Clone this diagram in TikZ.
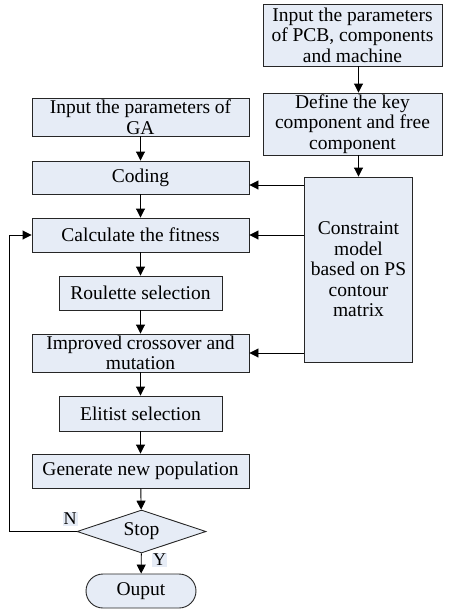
\documentclass[tikz,border=0pt]{standalone}
\usepackage{fontspec}
\setmainfont{Liberation Serif}
\usetikzlibrary{arrows.meta,shapes.geometric}
\definecolor{boxfill}{HTML}{E6ECF6}
\tikzset{
  box/.style={draw=black!85, fill=boxfill, line width=0.9pt, align=center,
    inner sep=0pt, font=\fontsize{19.5}{20.5}\selectfont},
  decide/.style={diamond, draw=black!85, fill=boxfill, line width=0.9pt,
    inner sep=0pt, font=\fontsize{19.5}{20.5}\selectfont},
  arr/.style={line width=0.9pt, -{Triangle[length=9pt,width=9pt]}},
  lbl/.style={fill=boxfill, inner sep=1pt, font=\fontsize{18}{18}\selectfont}
}
\begin{document}
\begin{tikzpicture}[x=1pt, y=-1pt]
\useasboundingbox (0,0) rectangle (450,611);
% right column
\node[box, minimum width=179pt, minimum height=62pt] (pcb) at (352.5,35)
  {Input the parameters\\ of PCB, components\\ and machine};
\node[box, minimum width=179pt, minimum height=62pt] (key) at (352.5,124)
  {Define the key\\ component and free\\ component};
\node[box, minimum width=108pt, minimum height=185pt] (cons) at (358.5,269.5)
  {Constraint\\ model\\ based on PS\\ contour\\ matrix};

% left column
\node[box, minimum width=217pt, minimum height=38pt] (ga) at (140.5,117)
  {Input the parameters of\\ GA};
\node[box, minimum width=217pt, minimum height=33pt] (coding) at (140.5,177.5) {Coding};
\node[box, minimum width=217pt, minimum height=34pt] (fit) at (140.5,235) {Calculate the fitness};
\node[box, minimum width=163pt, minimum height=34pt] (roul) at (140.5,293) {Roulette selection};
\node[box, minimum width=217pt, minimum height=38pt] (cross) at (140.5,353)
  {Improved crossover and\\ mutation};
\node[box, minimum width=163pt, minimum height=35pt] (elit) at (140.5,413.5) {Elitist selection};
\node[box, minimum width=217pt, minimum height=34pt] (gen) at (140.5,471) {Generate new population};
\node[decide, minimum width=129pt, minimum height=43pt, aspect=3] (stop) at (141.5,531.5) {Stop};
\node[box, rounded corners=17pt, minimum width=110pt, minimum height=34pt] (out) at (141,591) {Ouput};

% labels
\node[lbl] (n) at (70,519) {N};
\node[lbl] (y) at (159.5,560) {Y};

% connectors
\coordinate (cin) at ([yshift=-7.5pt]coding.east);
\draw[arr] (pcb.south -| cons) -- (key.north -| cons);
\draw[arr] (key.south -| cons) -- (cons.north);
\draw[arr] (ga) -- (coding);
\draw[arr] (coding) -- (fit);
\draw[arr] (fit) -- (roul);
\draw[arr] (roul) -- (cross);
\draw[arr] (cross) -- (elit);
\draw[arr] (elit) -- (gen);
\draw[arr] (gen) -- (stop);
\draw[arr] (stop) -- (out);
\draw[arr] (cons.west |- cin) -- (cin);
\draw[arr] (cons.west |- fit.east) -- (fit.east);
\draw[arr] (cons.west |- cross.east) -- (cross.east);
\draw[arr] (stop.west) -- ++(-67,0) |- (fit.west);
\end{tikzpicture}
\end{document}
